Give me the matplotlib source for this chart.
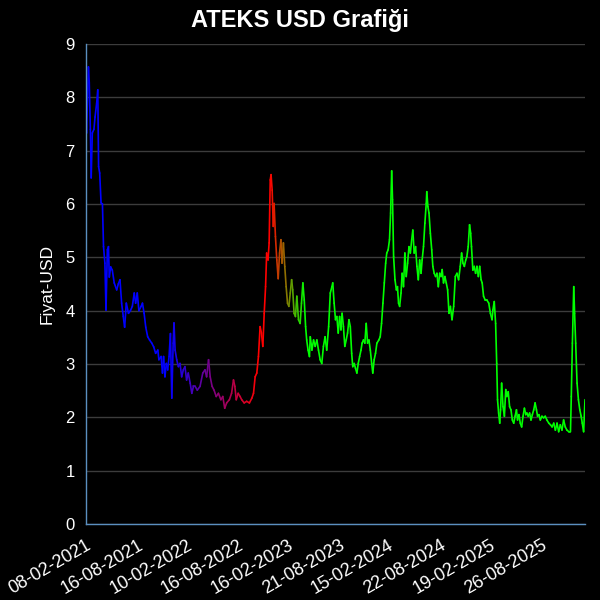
import numpy as np
import pandas as pd
import matplotlib
matplotlib.use("Agg")
import matplotlib.pyplot as plt
import matplotlib.dates as mdates
from matplotlib.collections import LineCollection

plt.rcParams['font.family'] = ['Liberation Sans', 'DejaVu Sans']

# gün sayısı (08-02-2021'den itibaren) ve fiyat (USD)
start_date = "2021-02-08"
days = [
    0, 2, 9, 12, 16, 19, 23, 29, 33, 39, 43, 46, 50, 55, 60, 64, 69, 73, 78, 82,
    85, 90, 96, 103, 112, 118, 124, 130, 136, 141, 147, 155, 162, 169, 176, 181, 187, 193, 201, 206,
    212, 218, 225, 232, 240, 247, 254, 262, 266, 274, 279, 283, 288, 293, 298, 303, 308, 313, 318, 321,
    325, 331, 337, 343, 349, 355, 361, 367, 373, 380, 386, 392,
    398, 406, 416, 426, 434, 440, 447, 453, 460, 467, 475, 483, 492, 499, 506, 513, 523, 531, 538, 543,
    548, 555, 562, 568, 577, 586, 596, 605, 611, 617, 623, 629, 635, 640, 645, 650, 655, 659, 664, 668,
    672, 675, 679, 683, 686, 691, 696, 701, 706, 711, 715, 720, 725, 730, 735, 740, 745, 750, 754, 759,
    764, 769, 775, 781, 786, 791, 796, 801, 805, 810, 815,
    818, 824, 830, 836, 842, 848, 854, 860, 866, 872, 878, 885, 891, 897, 900, 905, 910, 915, 920, 925,
    930, 934, 939, 944, 949, 954, 959, 964, 969, 973, 978, 983, 988, 993, 998, 1003, 1007, 1012, 1017, 1022,
    1027, 1032, 1037, 1042, 1046, 1051, 1056, 1061, 1068, 1073, 1078, 1083, 1088, 1093, 1097, 1102, 1107, 1111, 1115, 1118,
    1122, 1127, 1132, 1136, 1140, 1144, 1149, 1153, 1158, 1163, 1168, 1173, 1178, 1183, 1188, 1192, 1197, 1202, 1207, 1212,
    1217, 1222, 1226, 1231, 1236, 1241, 1243, 1247, 1251, 1256, 1261, 1265, 1270, 1275, 1280, 1285, 1290, 1295, 1299, 1304,
    1309, 1314, 1319, 1324,
    1329, 1335, 1341, 1347, 1353, 1359, 1365, 1370, 1375, 1380, 1385, 1389, 1394, 1399, 1403, 1406, 1411, 1416, 1421, 1426,
    1431, 1436, 1441, 1445, 1450, 1456, 1462, 1469, 1475, 1481, 1484, 1489, 1494, 1498, 1501, 1505, 1509, 1512, 1516, 1521,
    1526, 1531, 1535, 1540, 1545, 1550, 1555, 1560, 1565, 1570, 1574, 1579, 1584, 1589, 1594, 1599, 1604, 1608, 1613, 1618,
    1623, 1628, 1633, 1638, 1643, 1647, 1652, 1657, 1663, 1669, 1675, 1681, 1688, 1694, 1700, 1706, 1712, 1718, 1724, 1730,
    1736, 1742, 1748, 1754, 1761, 1767, 1770, 1774, 1779, 1782, 1786, 1791, 1796, 1801, 1806, 1810, 1815, 1820,
]
prices = [
    7.70, 7.33, 8.57, 8.27, 7.40, 6.49, 7.33, 7.40, 7.63, 7.89, 8.14, 6.70, 6.58, 6.02, 6.00, 5.20, 4.89, 4.01, 5.14, 5.20,
    4.63, 4.82, 4.76, 4.52, 4.39, 4.50, 4.58, 4.14, 3.89, 3.69, 4.14, 3.95, 4.00, 4.08, 4.33, 4.14, 4.33, 4.00, 4.08, 4.14,
    3.95, 3.69, 3.51, 3.45, 3.39, 3.32, 3.20, 3.26, 3.08, 3.14, 2.83, 3.14, 2.76, 3.01, 2.89, 3.14, 3.57, 2.36, 3.39, 3.77,
    3.26, 3.08, 2.95, 3.01, 2.76, 2.89, 2.95, 2.70, 2.83, 2.64, 2.45, 2.58,
    2.58, 2.51, 2.58, 2.83, 2.89, 2.76, 3.08, 2.76, 2.58, 2.51, 2.39, 2.45, 2.33, 2.39, 2.17, 2.27, 2.33, 2.45, 2.70, 2.58,
    2.33, 2.45, 2.39, 2.33, 2.27, 2.30, 2.27, 2.36, 2.45, 2.76, 2.83, 3.14, 3.70, 3.58, 3.33, 3.95, 4.45, 5.08, 4.95, 5.27,
    6.45, 6.55, 6.26, 5.58, 6.01, 5.39, 4.95, 4.60, 5.08, 5.33, 4.89, 5.27, 4.83, 4.45, 4.14, 4.08, 4.33, 4.58, 4.39, 3.95,
    3.89, 4.27, 3.83, 3.76, 4.14, 4.52, 4.20, 3.70, 3.45, 3.26, 3.14,
    3.51, 3.26, 3.45, 3.33, 3.45, 3.26, 3.08, 3.01, 3.33, 3.51, 3.26, 3.70, 4.33, 4.45, 4.52, 4.14, 3.83, 3.89, 3.58, 3.89,
    3.64, 3.95, 3.70, 3.33, 3.45, 3.58, 3.83, 3.70, 3.20, 2.95, 3.01, 2.92, 2.83, 3.01, 3.14, 3.26, 3.39, 3.45, 3.39, 3.76,
    3.39, 3.45, 3.26, 3.01, 2.83, 3.08, 3.20, 3.39, 3.45, 3.51, 3.76, 4.14, 4.52, 4.89, 5.08, 5.14, 5.33, 5.83, 6.62, 6.08,
    5.01, 4.58, 4.39, 4.45, 4.14, 4.08, 4.33, 4.70, 4.45, 5.08, 4.64, 4.89, 5.20, 5.08, 5.33, 5.51, 5.08, 5.20, 4.83, 4.58,
    4.95, 4.70, 4.95, 5.20, 5.64, 6.01, 6.23, 5.95, 5.83, 5.45, 5.14, 4.83, 4.70, 4.64, 4.70, 4.45, 4.70, 4.64, 4.77, 4.52,
    4.64, 4.52, 4.39, 3.95,
    4.08, 3.83, 4.08, 4.64, 4.70, 4.58, 4.83, 5.08, 4.89, 4.83, 4.95, 5.01, 5.20, 5.61, 5.45, 5.20, 4.76, 4.83, 4.70, 4.83,
    4.64, 4.83, 4.58, 4.52, 4.27, 4.20, 4.20, 4.14, 3.95, 3.83, 4.01, 4.17, 3.76, 3.01, 2.33, 2.08, 1.89, 2.14, 2.64, 2.20,
    2.02, 2.52, 2.39, 2.48, 2.20, 2.14, 1.95, 1.89, 2.02, 2.14, 1.95, 2.05, 1.89, 1.82, 2.02, 2.17, 2.05, 2.08, 2.02, 2.08,
    1.95, 2.05, 2.14, 2.27, 2.14, 2.02, 2.05, 1.95, 2.02, 1.99, 2.02, 1.95, 1.89, 1.86, 1.82, 1.89, 1.76, 1.89, 1.73, 1.86,
    1.76, 1.95, 1.82, 1.76, 1.73, 1.73, 2.39, 3.39, 4.45, 3.95, 3.39, 2.64, 2.33, 2.14, 2.02, 1.89, 1.73, 2.33,
]

tick_labels = ["08-02-2021", "16-08-2021", "10-02-2022", "16-08-2022", "16-02-2023",
               "21-08-2023", "15-02-2024", "22-08-2024", "19-02-2025", "26-08-2025"]

# renk geçişi: mavi -> kırmızı -> yeşil
color_days = [0, 300, 630, 672, 800, 1820]
color_rgb = [(0, 0, 1), (0, 0, 1), (1, 0, 0), (1, 0, 0), (0, 1, 0), (0, 1, 0)]

dates = pd.Timestamp(start_date) + pd.to_timedelta(days, unit="D")
x = mdates.date2num(dates)
y = np.array(prices)

pts = np.column_stack([x, y]).reshape(-1, 1, 2)
segs = np.concatenate([pts[:-1], pts[1:]], axis=1)
d = np.array(days, dtype=float)
mid = (d[:-1] + d[1:]) / 2
cols = np.column_stack([np.interp(mid, color_days, [c[i] for c in color_rgb]) for i in range(3)])

fig = plt.figure(figsize=(6, 6), dpi=100, facecolor="black")
ax = fig.add_axes([0.1433, 0.1267, 0.8317, 0.8])
ax.set_facecolor("black")

lc = LineCollection(segs, colors=cols, linewidths=1.2, capstyle="round", joinstyle="round")
ax.add_collection(lc)

ax.set_xlim(x[0], x[-1])
ax.set_ylim(0, 9)
ax.set_yticks(range(0, 10))
ax.yaxis.grid(True, color="#3c3c3c", linewidth=1)
ax.set_axisbelow(True)

tick_pos = mdates.date2num(pd.to_datetime(tick_labels, format="%d-%m-%Y"))
ax.set_xticks(tick_pos)
ax.set_xticklabels(tick_labels, rotation=30, ha="right", rotation_mode="anchor")

ax.tick_params(axis="y", length=0, colors="white", labelsize=12, pad=8)
ax.tick_params(axis="x", length=0, colors="white", labelsize=13, pad=9)

for s in ["top", "right"]:
    ax.spines[s].set_visible(False)
for s in ["left", "bottom"]:
    ax.spines[s].set_color("#5b8fc0")
    ax.spines[s].set_linewidth(1)

ax.set_ylabel("Fiyat-USD", color="white", fontsize=12.5, labelpad=8)
fig.suptitle("ATEKS USD Grafiği", color="white", fontsize=17, fontweight="bold", y=0.985)

fig.savefig("out.png", dpi=100, facecolor="black")
